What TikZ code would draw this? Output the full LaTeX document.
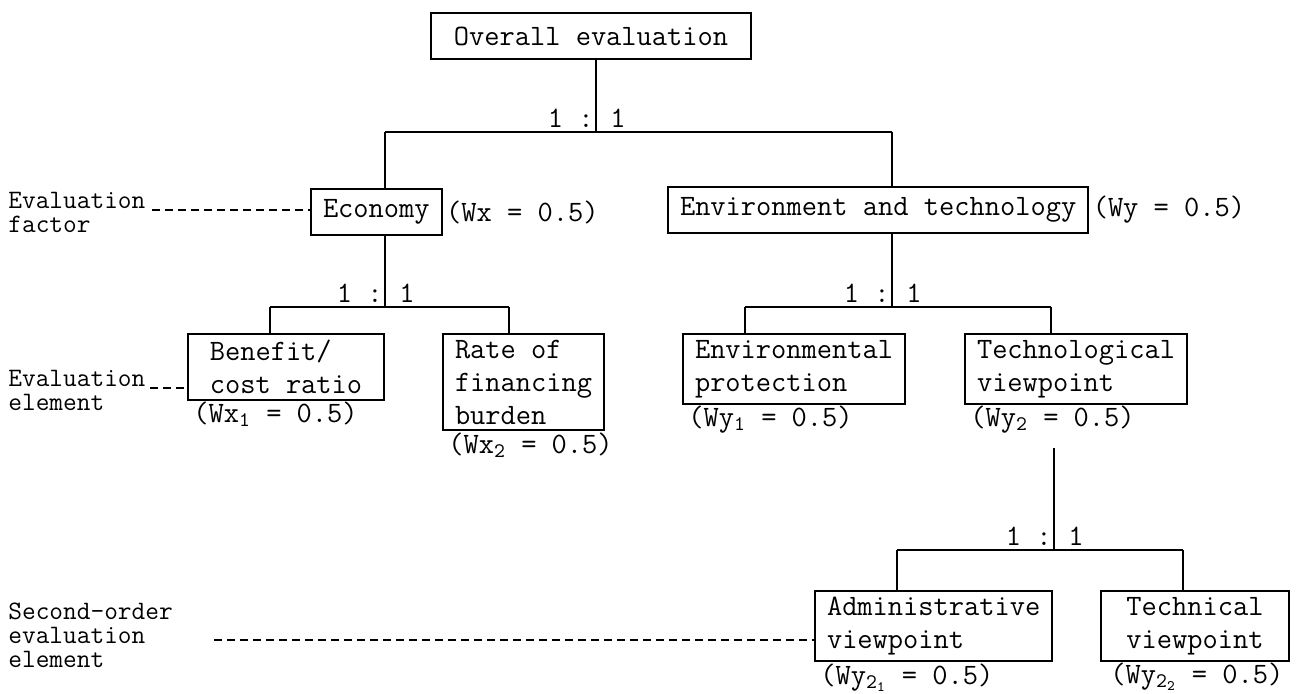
\documentclass[tikz,border=0pt]{standalone}
\usetikzlibrary{positioning}
\begin{document}
\begin{tikzpicture}
    \def\dx{0.5pt}
    \def\dy{0.5pt}
    \useasboundingbox (0,0) rectangle (1312*\dx,-694*\dy);

    \tikzstyle{box}=[draw=black,line width=1pt,inner xsep=6pt,inner ysep=3pt,align=left,font=\fontsize{14.8pt}{16.5pt}\ttfamily]
    \tikzstyle{single}=[box,minimum height=23pt]
    \tikzstyle{weight}=[inner sep=0pt,font=\fontsize{14.8pt}{16.5pt}\ttfamily]
    \tikzstyle{ratio}=[inner sep=0pt,font=\fontsize{14.8pt}{16.5pt}\ttfamily]
    \tikzstyle{side}=[inner sep=0pt,align=left,font=\fontsize{13.3pt}{12pt}\ttfamily]

    \node[single,minimum width=160pt,anchor=north west] (overall) at (430*\dx,-12*\dy) {Overall evaluation};
    \node[single,anchor=north west] (econ) at (310*\dx,-188*\dy) {Economy};
    \node[weight,right=1.5pt of econ] (wx) {(Wx = 0.5)};
    \node[single,anchor=north west] (envtec) at (667*\dx,-186*\dy) {Environment and technology};
    \node[weight,right=1.5pt of envtec] (wy) {(Wy = 0.5)};

    \node[box,minimum width=98pt,anchor=north west] (benefit) at (187*\dx,-333*\dy) {Benefit/\\cost ratio};
    \node[box,anchor=north west] (rate) at (442*\dx,-333*\dy) {Rate of\\financing\\burden};
    \node[box,anchor=north west] (envprot) at (682*\dx,-333*\dy) {Environmental\\protection};
    \node[box,anchor=north west] (techview) at (964*\dx,-333*\dy) {Technological\\viewpoint};
    \node[box,anchor=north west] (admin) at (814*\dx,-590*\dy) {Administrative\\viewpoint};
    \node[box,minimum width=94pt,anchor=north west] (technical) at (1100*\dx,-590*\dy) {Technical\\viewpoint};

    \node[weight,anchor=north west] (wxone) at ([xshift=3pt,yshift=-0.5pt]benefit.south west) {(Wx\textsubscript{1} = 0.5)};
    \node[weight,anchor=north west] (wxtwo) at ([xshift=3pt,yshift=-0.5pt]rate.south west) {(Wx\textsubscript{2} = 0.5)};
    \node[weight,anchor=north west] (wyone) at ([xshift=3pt,yshift=-0.5pt]envprot.south west) {(Wy\textsubscript{1} = 0.5)};
    \node[weight,anchor=north west] (wytwo) at ([xshift=3pt,yshift=-0.5pt]techview.south west) {(Wy\textsubscript{2} = 0.5)};
    \node[weight,anchor=north west] (wytwoone) at ([xshift=3pt,yshift=-0.5pt]admin.south west) {(Wy\textsubscript{2\textsubscript{1}} = 0.5)};
    \node[weight,anchor=north west] (wytwotwo) at ([xshift=5pt,yshift=-0.5pt]technical.south west) {(Wy\textsubscript{2\textsubscript{2}} = 0.5)};

    \node[side,anchor=north west] (factorlab) at (8*\dx,-192*\dy) {Evaluation\\factor};
    \node[side,anchor=north west] (elemlab) at (8*\dx,-370*\dy) {Evaluation\\element};
    \node[side,anchor=north west] (secondlab) at (8*\dx,-603*\dy) {Second-order\\evaluation\\element};

    \coordinate (j0) at (596*\dx,-132*\dy);
    \coordinate (a1) at (385*\dx,-132*\dy);
    \coordinate (a2) at (892*\dx,-132*\dy);
    \coordinate (j1) at (385*\dx,-307*\dy);
    \coordinate (b1) at (270*\dx,-307*\dy);
    \coordinate (b2) at (509*\dx,-307*\dy);
    \coordinate (j2) at (892*\dx,-307*\dy);
    \coordinate (c1) at (745*\dx,-307*\dy);
    \coordinate (c2) at (1051*\dx,-307*\dy);
    \coordinate (t0) at (1054*\dx,-448*\dy);
    \coordinate (j3) at (1054*\dx,-550*\dy);
    \coordinate (g1) at (897*\dx,-550*\dy);
    \coordinate (g2) at (1183*\dx,-550*\dy);

    \node[ratio,anchor=south east] (r0a) at ([xshift=-1pt,yshift=2pt]j0) {1 :};
    \node[ratio,anchor=south west] (r0b) at ([xshift=7pt,yshift=2pt]j0) {1};
    \node[ratio,anchor=south east] (r1a) at ([xshift=-1pt,yshift=2pt]j1) {1 :};
    \node[ratio,anchor=south west] (r1b) at ([xshift=7pt,yshift=2pt]j1) {1};
    \node[ratio,anchor=south east] (r2a) at ([xshift=-1pt,yshift=2pt]j2) {1 :};
    \node[ratio,anchor=south west] (r2b) at ([xshift=7pt,yshift=2pt]j2) {1};
    \node[ratio,anchor=south east] (r3a) at ([xshift=-1pt,yshift=2pt]j3) {1 :};
    \node[ratio,anchor=south west] (r3b) at ([xshift=7pt,yshift=2pt]j3) {1};

    \tikzstyle{link}=[draw=black,line width=1pt]
    \tikzstyle{guide}=[draw=black,line width=1pt,dash pattern=on 4pt off 2.5pt]

    % overall -> factors
    \draw[link] (overall.south -| j0) -- (j0);
    \draw[link] (a1) -- (a2);
    \draw[link] (a1) -- (a1 |- econ.north);
    \draw[link] (a2) -- (a2 |- envtec.north);

    % factors -> elements
    \draw[link] (econ.south -| j1) -- (j1);
    \draw[link] (b1) -- (b2);
    \draw[link] (b1) -- (b1 |- benefit.north);
    \draw[link] (b2) -- (b2 |- rate.north);
    \draw[link] (envtec.south -| j2) -- (j2);
    \draw[link] (c1) -- (c2);
    \draw[link] (c1) -- (c1 |- envprot.north);
    \draw[link] (c2) -- (c2 |- techview.north);

    % technological viewpoint -> second-order elements
    \draw[link] (t0) -- (j3);
    \draw[link] (g1) -- (g2);
    \draw[link] (g1) -- (g1 |- admin.north);
    \draw[link] (g2) -- (g2 |- technical.north);

    % level labels
    \coordinate (s1) at (152*\dx,-210*\dy);
    \coordinate (s2) at (150*\dx,-388*\dy);
    \coordinate (s3) at (214*\dx,-640*\dy);
    \draw[guide] (s1) -- (s1 -| econ.west);
    \draw[guide] (s2) -- (s2 -| benefit.west);
    \draw[guide] (s3) -- (s3 -| admin.west);
\end{tikzpicture}
\end{document}
